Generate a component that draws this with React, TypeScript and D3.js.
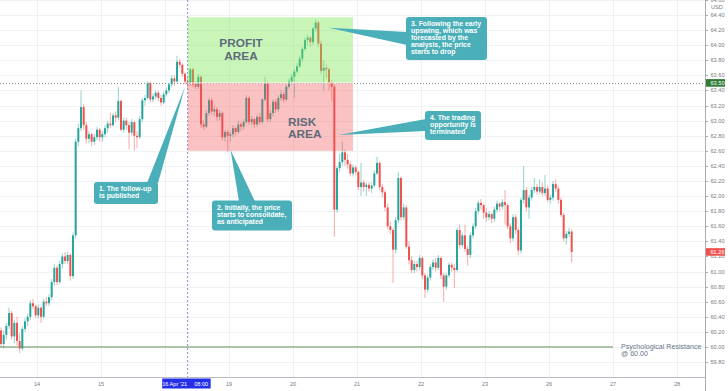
import React, { useEffect, useRef } from 'react';
import * as d3 from 'd3';

type Bar = [number, number, number, number]; // open, high, low, close

// hourly candles, one array per session
const apr13: Bar[] = [
  [60.22, 60.26, 60.0, 60.04], [60.04, 60.22, 59.98, 60.16], [60.16, 60.32, 60.1, 60.28],
  [60.28, 60.52, 60.24, 60.45], [60.45, 60.48, 60.1, 60.14], [60.14, 60.36, 60.05, 60.32],
  [60.32, 60.4, 60.02, 60.08], [60.08, 60.18, 59.92, 59.98], [59.98, 60.28, 59.95, 60.24],
  [60.24, 60.38, 60.2, 60.34], [60.34, 60.44, 60.28, 60.4], [60.4, 60.62, 60.36, 60.58],
  [60.58, 60.64, 60.5, 60.54], [60.54, 60.56, 60.38, 60.42],
];
const apr14: Bar[] = [
  [60.42, 60.56, 60.38, 60.52], [60.52, 60.54, 60.32, 60.4], [60.4, 60.64, 60.38, 60.6],
  [60.6, 60.66, 60.54, 60.58], [60.58, 60.7, 60.54, 60.66], [60.66, 60.9, 60.62, 60.86],
  [60.86, 61.1, 60.82, 61.05], [61.05, 61.08, 60.82, 60.86], [60.86, 61.14, 60.84, 61.1],
  [61.1, 61.24, 61.04, 61.2], [61.2, 61.26, 61.1, 61.14], [61.14, 61.26, 61.1, 61.22],
  [61.22, 61.24, 60.88, 60.94], [60.94, 61.52, 60.9, 61.48], [61.48, 62.76, 61.44, 62.72],
  [62.72, 62.96, 62.66, 62.9], [62.9, 63.4, 62.86, 63.18], [63.18, 63.22, 62.88, 62.94],
  [62.94, 62.98, 62.7, 62.76], [62.76, 62.86, 62.7, 62.82], [62.82, 62.84, 62.66, 62.72],
  [62.72, 62.82, 62.68, 62.78], [62.78, 62.92, 62.74, 62.88], [62.88, 62.9, 62.72, 62.78],
];
const apr15: Bar[] = [
  [62.78, 62.86, 62.72, 62.82], [62.82, 62.94, 62.78, 62.9], [62.9, 63.0, 62.84, 62.96],
  [62.96, 63.1, 62.9, 62.94], [62.94, 63.1, 62.92, 63.07], [63.07, 63.12, 62.98, 63.04],
  [63.04, 63.45, 63.0, 63.26], [63.26, 63.28, 62.86, 62.88], [62.88, 63.04, 62.84, 63.0],
  [63.0, 63.04, 62.88, 62.94], [62.94, 62.98, 62.62, 62.84], [62.84, 63.02, 62.8, 62.98],
  [62.98, 63.0, 62.6, 62.8], [62.8, 62.86, 62.64, 62.78], [62.78, 63.06, 62.76, 63.02],
  [63.02, 63.3, 62.98, 63.27], [63.27, 63.34, 63.2, 63.3], [63.3, 63.52, 63.28, 63.5],
  [63.5, 63.52, 63.24, 63.28], [63.28, 63.36, 63.24, 63.32], [63.32, 63.4, 63.28, 63.37],
  [63.37, 63.4, 63.26, 63.3], [63.3, 63.34, 63.2, 63.24], [63.24, 63.38, 63.22, 63.35],
];
const apr16: Bar[] = [
  [63.35, 63.44, 63.32, 63.4], [63.4, 63.5, 63.36, 63.48], [63.48, 63.6, 63.44, 63.56],
  [63.56, 63.6, 63.46, 63.52], [63.52, 63.86, 63.5, 63.78], [63.78, 63.82, 63.7, 63.74],
  [63.74, 63.76, 63.58, 63.62], [63.62, 63.64, 63.48, 63.52], [63.52, 63.56, 63.44, 63.5],
  [63.5, 63.7, 63.46, 63.68], [63.68, 63.7, 63.44, 63.48], [63.48, 63.52, 63.42, 63.45],
  [63.45, 63.62, 63.42, 63.58], [63.58, 63.6, 62.9, 62.95], [62.95, 63.0, 62.88, 62.92],
  [62.92, 63.14, 62.9, 63.1], [63.1, 63.3, 63.06, 63.27], [63.27, 63.3, 63.08, 63.12],
  [63.12, 63.2, 63.06, 63.15], [63.15, 63.18, 63.0, 63.05], [63.05, 63.14, 63.0, 63.1],
  [63.1, 63.12, 62.74, 62.78], [62.78, 62.88, 62.72, 62.85], [62.85, 62.88, 62.58, 62.8],
];
const apr19: Bar[] = [
  [62.8, 62.86, 62.72, 62.82], [62.82, 62.94, 62.78, 62.9], [62.9, 62.92, 62.8, 62.85],
  [62.85, 63.0, 62.82, 62.95], [62.95, 62.98, 62.86, 62.92], [62.92, 63.02, 62.88, 62.98],
  [62.98, 63.34, 62.96, 63.3], [63.3, 63.32, 62.94, 62.98], [62.98, 63.06, 62.94, 63.02],
  [63.02, 63.04, 62.9, 62.95], [62.95, 63.08, 62.92, 63.05], [63.05, 63.1, 62.94, 62.98],
  [62.98, 63.3, 62.96, 63.28], [63.28, 63.58, 63.26, 63.5], [63.5, 63.52, 62.98, 63.02],
  [63.02, 63.14, 62.98, 63.1], [63.1, 63.28, 63.06, 63.25], [63.25, 63.28, 63.1, 63.15],
  [63.15, 63.34, 63.12, 63.3], [63.3, 63.4, 63.26, 63.35], [63.35, 63.38, 63.24, 63.28],
  [63.28, 63.48, 63.26, 63.45], [63.45, 63.56, 63.42, 63.52], [63.52, 63.62, 63.48, 63.58],
];
const apr20: Bar[] = [
  [63.58, 63.68, 63.3, 63.65], [63.65, 63.76, 63.62, 63.72], [63.72, 63.86, 63.7, 63.82],
  [63.82, 63.98, 63.78, 63.95], [63.95, 64.1, 63.92, 64.07], [64.07, 64.14, 64.0, 64.1],
  [64.1, 64.12, 63.98, 64.04], [64.04, 64.24, 64.0, 64.22], [64.22, 64.34, 64.18, 64.3],
  [64.3, 64.32, 63.98, 64.02], [64.02, 64.06, 63.62, 63.66], [63.66, 63.8, 63.4, 63.7],
  [63.7, 63.74, 63.56, 63.68], [63.68, 63.7, 63.4, 63.5], [63.5, 63.54, 63.26, 63.45],
  [63.45, 63.48, 61.46, 61.82], [61.82, 62.4, 61.78, 62.37], [62.37, 62.56, 62.32, 62.45],
  [62.45, 62.72, 62.4, 62.58], [62.58, 62.62, 62.4, 62.48], [62.48, 62.56, 62.36, 62.42],
  [62.42, 62.46, 62.26, 62.3], [62.3, 62.42, 62.26, 62.38], [62.38, 62.4, 62.28, 62.32],
];
const apr21: Bar[] = [
  [62.32, 62.34, 62.08, 62.12], [62.12, 62.44, 62.0, 62.18], [62.18, 62.22, 62.06, 62.12],
  [62.12, 62.18, 62.0, 62.15], [62.15, 62.18, 62.06, 62.1], [62.1, 62.18, 62.04, 62.14],
  [62.14, 62.34, 62.12, 62.3], [62.3, 62.52, 62.28, 62.44], [62.44, 62.46, 62.08, 62.12],
  [62.12, 62.16, 61.98, 62.05], [62.05, 62.08, 61.8, 61.85], [61.85, 61.9, 61.56, 61.6],
  [61.6, 61.66, 61.5, 61.55], [61.55, 61.58, 60.85, 61.29], [61.29, 61.72, 61.24, 61.68],
  [61.68, 62.32, 61.64, 62.24], [62.24, 62.26, 61.68, 61.72], [61.72, 61.9, 61.68, 61.85],
  [61.85, 61.88, 61.3, 61.33], [61.33, 61.4, 61.1, 61.15], [61.15, 61.2, 60.98, 61.02],
  [61.02, 61.14, 60.98, 61.1], [61.1, 61.14, 61.0, 61.06], [61.06, 61.22, 61.02, 61.18],
];
const apr22: Bar[] = [
  [61.18, 61.2, 60.9, 60.95], [60.95, 60.98, 60.65, 60.76], [60.76, 60.96, 60.72, 60.92],
  [60.92, 61.1, 60.88, 61.06], [61.06, 61.16, 61.02, 61.12], [61.12, 61.18, 61.0, 61.05],
  [61.05, 61.22, 61.02, 61.18], [61.18, 61.2, 60.9, 60.95], [60.95, 60.98, 60.6, 60.8],
  [60.8, 60.98, 60.76, 60.95], [60.95, 61.12, 60.92, 61.09], [61.09, 61.12, 61.0, 61.05],
  [61.05, 61.1, 60.78, 61.02], [61.02, 61.58, 61.0, 61.55], [61.55, 61.62, 61.3, 61.35],
  [61.35, 61.52, 61.32, 61.48], [61.48, 61.62, 61.26, 61.3], [61.3, 61.34, 61.08, 61.22],
  [61.22, 61.52, 61.18, 61.48], [61.48, 61.64, 61.44, 61.6], [61.6, 61.84, 61.56, 61.8],
  [61.8, 61.94, 61.76, 61.91], [61.91, 61.96, 61.82, 61.88], [61.88, 61.9, 61.7, 61.78],
];
const apr23: Bar[] = [
  [61.78, 61.84, 61.66, 61.72], [61.72, 61.8, 61.68, 61.76], [61.76, 61.78, 61.64, 61.7],
  [61.7, 61.86, 61.66, 61.82], [61.82, 61.94, 61.78, 61.9], [61.9, 61.92, 61.8, 61.86],
  [61.86, 61.96, 61.82, 61.92], [61.92, 62.08, 61.62, 61.88], [61.88, 61.9, 61.56, 61.6],
  [61.6, 61.64, 61.38, 61.44], [61.44, 61.76, 61.4, 61.72], [61.72, 61.76, 61.5, 61.55],
  [61.55, 61.58, 61.22, 61.28], [61.28, 61.98, 61.24, 61.95], [61.95, 62.4, 61.9, 62.08],
  [62.08, 62.12, 61.8, 61.85], [61.85, 62.02, 61.7, 61.98], [61.98, 62.12, 61.94, 62.08],
  [62.08, 62.24, 62.04, 62.12], [62.12, 62.16, 62.02, 62.06], [62.06, 62.22, 62.02, 62.12],
  [62.12, 62.18, 62.0, 62.04], [62.04, 62.28, 62.0, 62.1], [62.1, 62.14, 61.92, 61.95],
];
const apr26: Bar[] = [
  [61.95, 62.02, 61.9, 61.98], [61.98, 62.2, 61.94, 62.16], [62.16, 62.22, 62.06, 62.1],
  [62.1, 62.14, 61.9, 61.95], [61.95, 61.98, 61.72, 61.75], [61.75, 61.78, 61.4, 61.44],
  [61.44, 61.54, 61.36, 61.5], [61.5, 61.58, 61.46, 61.53], [61.53, 61.56, 61.12, 61.26],
];

// trading-day slots on the time axis (27 and 28 are future)
const tradingDays = ['13', '14', '15', '16', '19', '20', '21', '22', '23', '26', '27', '28'];
const dayLabels = ['14', '15', '19', '20', '21', '22', '23', '26', '27', '28'];
const sessions = [
  { day: '13', firstHour: 10, bars: apr13 },
  { day: '14', firstHour: 0, bars: apr14 },
  { day: '15', firstHour: 0, bars: apr15 },
  { day: '16', firstHour: 0, bars: apr16 },
  { day: '19', firstHour: 0, bars: apr19 },
  { day: '20', firstHour: 0, bars: apr20 },
  { day: '21', firstHour: 0, bars: apr21 },
  { day: '22', firstHour: 0, bars: apr22 },
  { day: '23', firstHour: 0, bars: apr23 },
  { day: '26', firstHour: 0, bars: apr26 },
];
const priceTicks = [
  59.8, 60.0, 60.2, 60.4, 60.6, 60.8, 61.0, 61.2, 61.4, 61.6, 61.8, 62.0, 62.2,
  62.4, 62.6, 62.8, 63.0, 63.2, 63.4, 63.6, 63.8, 64.0, 64.2, 64.4, 64.6,
];

const entryLevel = 63.5;
const profitTop = 64.37;
const riskBottom = 62.6;
const supportLevel = 60.0;
const lastPrice = 61.26;

const W = 728;
const H = 391;
const AXIS_X = 705;
const AXIS_Y = 377;
const FONT = "'Liberation Sans', Arial, sans-serif";

const App = () => {
  const ref = useRef<SVGSVGElement>(null);

  useEffect(() => {
    const svg = d3.select(ref.current);
    svg.selectAll('*').remove();

    const x = d3.scaleLinear().domain([0, tradingDays.length - 1]).range([-27, 677]);
    const y = d3.scaleLinear().domain([supportLevel, 64.4]).range([347, 15]);
    const t = (day: string, hour: number) => tradingDays.indexOf(day) + hour / 24;

    const bars = sessions.flatMap((s) =>
      s.bars.map((b, i) => ({ t: t(s.day, s.firstHour + i + 0.5), o: b[0], h: b[1], l: b[2], c: b[3] }))
    );

    svg.append('rect').attr('width', W).attr('height', H).attr('fill', '#fff');

    // grid
    const grid = svg.append('g');
    grid.selectAll('line.h')
      .data(priceTicks)
      .join('line')
      .attr('x1', 0).attr('x2', AXIS_X)
      .attr('y1', (d) => Math.round(y(d)) + 0.5).attr('y2', (d) => Math.round(y(d)) + 0.5)
      .attr('stroke', '#f0f2f6');
    grid.selectAll('line.v')
      .data(tradingDays)
      .join('line')
      .attr('x1', (d) => Math.round(x(t(d, 0))) + 0.5).attr('x2', (d) => Math.round(x(t(d, 0))) + 0.5)
      .attr('y1', 0).attr('y2', AXIS_Y)
      .attr('stroke', '#eef0f5');

    // psychological resistance
    svg.append('line')
      .attr('x1', 0).attr('x2', x(t('27', 0)))
      .attr('y1', y(supportLevel)).attr('y2', y(supportLevel))
      .attr('stroke', '#5f9150').attr('stroke-width', 1.2);
    const ps = svg.append('text')
      .attr('x', x(t('27', 0)) + 8).attr('y', y(supportLevel) + 1.5)
      .attr('font-family', FONT).attr('font-size', 7.1).attr('fill', '#6a7888');
    ps.append('tspan').text('Psychological Resistance');
    ps.append('tspan').attr('x', x(t('27', 0)) + 8).attr('dy', 7).text('@ 60.00');

    // entry level dotted line
    svg.append('line')
      .attr('x1', 0).attr('x2', AXIS_X)
      .attr('y1', Math.round(y(entryLevel)) + 0.5).attr('y2', Math.round(y(entryLevel)) + 0.5)
      .attr('stroke', '#8a8d94').attr('stroke-dasharray', '1,2');

    // publish time
    const pub = x(t('16', 8.5));
    svg.append('line')
      .attr('x1', pub).attr('x2', pub).attr('y1', 0).attr('y2', AXIS_Y)
      .attr('stroke', '#8186d6').attr('stroke-dasharray', '2,2');

    // candles
    const up = '#26a69a';
    const down = '#ef5350';
    const cg = svg.append('g');
    cg.selectAll('line')
      .data(bars)
      .join('line')
      .attr('x1', (d) => x(d.t)).attr('x2', (d) => x(d.t))
      .attr('y1', (d) => y(d.h)).attr('y2', (d) => y(d.l))
      .attr('stroke', (d) => (d.c >= d.o ? up : down))
      .attr('stroke-opacity', 0.55)
      .attr('stroke-width', 0.9);
    cg.selectAll('rect')
      .data(bars)
      .join('rect')
      .attr('x', (d) => x(d.t) - 1)
      .attr('width', 2)
      .attr('y', (d) => y(Math.max(d.o, d.c)))
      .attr('height', (d) => Math.max(0.8, Math.abs(y(d.o) - y(d.c))))
      .attr('fill', (d) => (d.c >= d.o ? up : down));

    // profit / risk zones
    const zx0 = pub;
    const zx1 = x(t('20', 22.5));
    svg.append('rect')
      .attr('x', zx0).attr('width', zx1 - zx0)
      .attr('y', y(profitTop)).attr('height', y(entryLevel) - y(profitTop))
      .attr('fill', 'rgba(120,230,80,0.4)');
    svg.append('rect')
      .attr('x', zx0).attr('width', zx1 - zx0)
      .attr('y', y(entryLevel)).attr('height', y(riskBottom) - y(entryLevel))
      .attr('fill', 'rgba(240,80,80,0.35)');
    svg.append('line')
      .attr('x1', zx0).attr('x2', zx1)
      .attr('y1', y(entryLevel)).attr('y2', y(entryLevel))
      .attr('stroke', '#fff').attr('stroke-opacity', 0.8);

    const zoneText = (lines: string[], px: number, py: number, anchor: string) => {
      const el = svg.append('text')
        .attr('font-family', FONT).attr('font-size', 11.8).attr('font-weight', 'bold')
        .attr('fill', '#5d6b7a').attr('text-anchor', anchor);
      lines.forEach((s, i) => el.append('tspan').attr('x', px).attr('y', py + i * 12.8).text(s));
    };
    zoneText(['PROFIT', 'AREA'], 241, 47, 'middle');
    zoneText(['RISK', 'AREA'], 288, 125.5, 'start');

    // callouts
    const callouts = [
      { lines: ['1. The follow-up', 'is published'], box: [94, 182, 64, 22], tip: [t('16', 7.5), 63.45], base: [[147, 183], [158, 183]] },
      { lines: ['2. Initially, the price', 'starts to consolidate,', 'as anticipated'], box: [212, 200.5, 80, 30], tip: [t('19', 0.6), 62.61], base: [[239, 201.5], [255, 201.5]] },
      { lines: ['3. Following the early', 'upswing, which was', 'forecasted by the', 'analysis, the price', 'starts to drop'], box: [406, 17, 81, 43], tip: [t('20', 13.4), 64.23], base: [[407, 32], [407, 45]] },
      { lines: ['4. The trading', 'opportunity is', 'terminated'], box: [425, 111, 56, 29], tip: [t('20', 17.1), 62.81], base: [[426, 119], [426, 131]] },
    ];
    const teal = '#4aafb9';
    callouts.forEach((c) => {
      const [bx, by, bw, bh] = c.box;
      const tip = [x(c.tip[0]), y(c.tip[1])];
      svg.append('path')
        .attr('d', `M${tip[0]},${tip[1]}L${c.base[0][0]},${c.base[0][1]}L${c.base[1][0]},${c.base[1][1]}Z`)
        .attr('fill', teal);
      svg.append('rect')
        .attr('x', bx).attr('y', by).attr('width', bw).attr('height', bh)
        .attr('rx', 3).attr('fill', teal);
      const el = svg.append('text')
        .attr('font-family', FONT).attr('font-size', 6.9).attr('font-weight', 'bold').attr('fill', '#fff');
      c.lines.forEach((s, i) => el.append('tspan').attr('x', bx + 5).attr('y', by + 9.3 + i * 6.9).text(s));
    });

    // axes
    svg.append('rect').attr('x', AXIS_X).attr('y', 0).attr('width', W - AXIS_X).attr('height', H).attr('fill', '#fff');
    svg.append('rect').attr('x', 0).attr('y', AXIS_Y).attr('width', AXIS_X).attr('height', H - AXIS_Y).attr('fill', '#fff');
    svg.append('line').attr('x1', AXIS_X + 0.5).attr('x2', AXIS_X + 0.5).attr('y1', 0).attr('y2', H).attr('stroke', '#a9acb4');
    svg.append('line').attr('x1', 0).attr('x2', AXIS_X).attr('y1', AXIS_Y + 0.5).attr('y2', AXIS_Y + 0.5).attr('stroke', '#b7bac2');

    const ya = svg.append('g').attr('font-family', FONT).attr('font-size', 5.6).attr('fill', '#787b86');
    ya.selectAll('line')
      .data(priceTicks)
      .join('line')
      .attr('x1', AXIS_X).attr('x2', AXIS_X + 3)
      .attr('y1', (d) => Math.round(y(d)) + 0.5).attr('y2', (d) => Math.round(y(d)) + 0.5)
      .attr('stroke', '#a9acb4');
    ya.selectAll('text')
      .data(priceTicks)
      .join('text')
      .attr('x', AXIS_X + 5.5).attr('y', (d) => y(d) + 2)
      .text((d) => d.toFixed(2));
    ya.append('text').attr('x', AXIS_X + 6).attr('y', 8.5).text('USD');

    const priceTag = (v: number, fill: string) => {
      svg.append('rect').attr('x', AXIS_X + 1).attr('y', y(v) - 3.8).attr('width', 19).attr('height', 7.6).attr('fill', fill);
      svg.append('text').attr('x', AXIS_X + 5.5).attr('y', y(v) + 2)
        .attr('font-family', FONT).attr('font-size', 5.6).attr('fill', '#fff').text(v.toFixed(2));
    };
    priceTag(entryLevel, '#2e7d32');
    priceTag(lastPrice, '#ef5350');

    const xa = svg.append('g').attr('font-family', FONT).attr('font-size', 5.6).attr('fill', '#787b86').attr('text-anchor', 'middle');
    xa.selectAll('text')
      .data(dayLabels)
      .join('text')
      .attr('x', (d) => x(t(d, 0)))
      .attr('y', 386)
      .text((d) => d);

    svg.append('rect').attr('x', pub - 25.5).attr('y', 378.5).attr('width', 48.5).attr('height', 10).attr('fill', '#2430e8');
    svg.append('text').attr('x', pub - 0.5).attr('y', 386).attr('text-anchor', 'end')
      .attr('font-family', FONT).attr('font-size', 5.6).attr('fill', '#fff').text("16 Apr '21");
    svg.append('text').attr('x', pub + 6.5).attr('y', 386)
      .attr('font-family', FONT).attr('font-size', 5.6).attr('fill', '#fff').text('08:00');
  }, []);

  return (
    <svg ref={ref} width={W} height={H} style={{ position: 'absolute', left: 0, top: 0, display: 'block' }} />
  );
};

export default App;
